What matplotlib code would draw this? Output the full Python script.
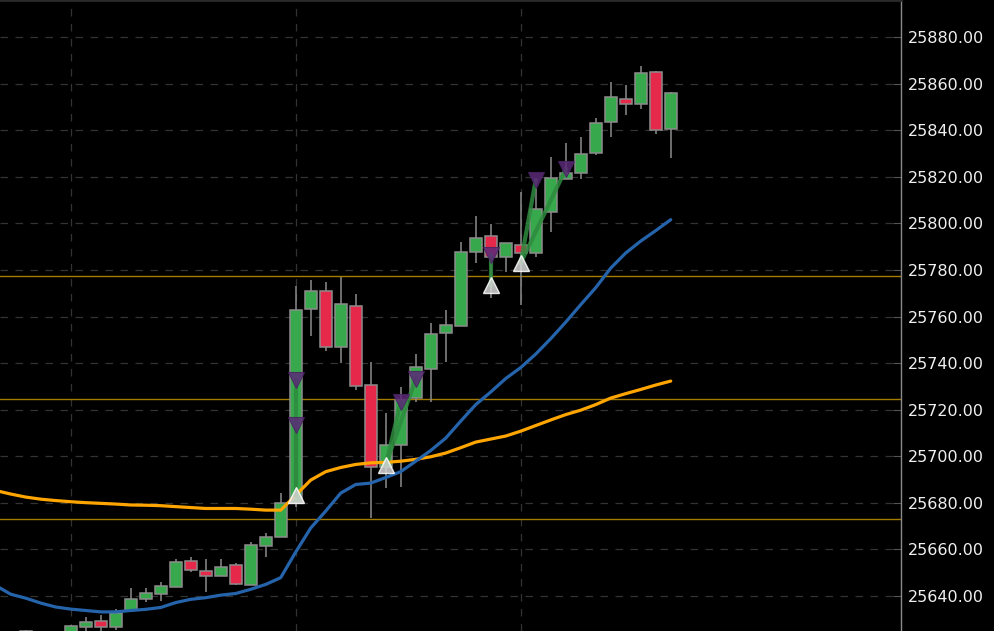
import matplotlib
matplotlib.use("Agg")
import matplotlib.pyplot as plt
from matplotlib.ticker import FixedLocator, FormatStrFormatter

# candles, bar index 0..44
opens  = [25618.0, 25620.0, 25619.0, 25622.0, 25620.0, 25626.8, 25629.4, 25626.6, 25634.0, 25638.7,
          25640.8, 25644.0, 25655.1, 25650.6, 25648.6, 25653.4, 25644.7, 25661.6, 25665.2, 25679.8,
          25763.2, 25771.1, 25747.0, 25764.5, 25730.6, 25695.5, 25704.8, 25725.1, 25737.4, 25753.0,
          25755.9, 25787.8, 25794.6, 25785.7, 25790.7, 25787.1, 25805.0, 25818.9, 25821.7, 25830.3,
          25843.6, 25853.3, 25851.1, 25864.8, 25840.5]
highs  = [25621.0, 25625.6, 25625.2, 25624.0, 25627.5, 25631.0, 25631.8, 25634.3, 25643.3, 25643.3,
          25645.9, 25655.7, 25656.9, 25655.7, 25655.7, 25654.0, 25663.3, 25666.9, 25684.1, 25773.1,
          25775.7, 25774.8, 25776.8, 25769.7, 25740.6, 25718.7, 25729.8, 25743.8, 25757.2, 25762.8,
          25792.1, 25803.1, 25799.7, 25791.6, 25813.6, 25815.2, 25828.3, 25834.6, 25837.2, 25845.1,
          25860.8, 25859.4, 25867.5, 25865.4, 25856.5]
lows   = [25612.0, 25615.0, 25614.0, 25616.0, 25618.0, 25624.5, 25624.0, 25625.4, 25634.0, 25637.5,
          25637.8, 25644.0, 25650.4, 25641.6, 25648.6, 25644.7, 25644.7, 25656.6, 25665.2, 25678.1,
          25751.7, 25745.3, 25739.9, 25728.4, 25673.3, 25686.2, 25686.9, 25723.4, 25723.4, 25740.6,
          25755.9, 25782.8, 25767.9, 25779.2, 25764.9, 25785.7, 25796.4, 25818.9, 25818.9, 25829.3,
          25836.9, 25846.5, 25849.0, 25838.4, 25827.9]
closes = [25616.0, 25624.9, 25623.0, 25618.0, 25627.1, 25628.7, 25626.6, 25632.8, 25638.6, 25641.1,
          25644.3, 25654.6, 25651.1, 25648.7, 25652.6, 25645.1, 25661.8, 25665.4, 25680.0, 25762.8,
          25771.1, 25747.0, 25765.4, 25730.3, 25695.5, 25704.8, 25724.1, 25738.4, 25752.5, 25756.3,
          25787.8, 25793.6, 25785.7, 25791.4, 25787.1, 25806.0, 25819.3, 25821.7, 25829.6, 25843.2,
          25854.1, 25851.2, 25864.4, 25840.1, 25856.1]

# moving averages, bar index -1..44
ema_fast = [25644.5, 25640.8, 25639.1, 25637.0, 25635.3, 25634.4, 25633.8, 25633.2, 25633.2, 25633.8,
            25634.3, 25635.1, 25637.2, 25638.6, 25639.3, 25640.4, 25641.1, 25642.9, 25645.0, 25647.9,
            25658.9, 25669.2, 25676.5, 25684.2, 25687.9, 25688.5, 25690.9, 25693.4, 25697.9, 25702.5,
            25707.8, 25715.1, 25722.2, 25727.6, 25733.4, 25738.1, 25743.9, 25750.5, 25757.6, 25765.1,
            25772.4, 25780.8, 25787.3, 25792.4, 25796.9, 25801.6]
ema_slow = [25685.3, 25683.8, 25682.5, 25681.6, 25681.0, 25680.5, 25680.1, 25679.8, 25679.5, 25679.1,
            25679.0, 25678.8, 25678.4, 25678.0, 25677.6, 25677.6, 25677.6, 25677.3, 25676.9, 25676.9,
            25683.3, 25689.8, 25693.4, 25695.2, 25696.5, 25697.2, 25697.4, 25697.9, 25698.7, 25699.8,
            25701.4, 25703.7, 25706.1, 25707.4, 25708.7, 25710.8, 25713.2, 25715.6, 25717.9, 25719.8,
            25722.2, 25725.0, 25726.9, 25728.7, 25730.6, 25732.3]

levels = [25777.4, 25724.6, 25673.0]

buy_idx = [19, 25, 32, 34]
buy_px  = [25683.3, 25696.2, 25773.5, 25783.0]
sell_idx = [19, 19, 26, 27, 32, 35, 37]
sell_px  = [25732.7, 25713.4, 25723.3, 25733.2, 25786.4, 25818.6, 25823.3]
# (buy n, sell n) links
links = [(0, 0), (0, 1), (1, 2), (1, 3), (2, 4), (3, 5), (3, 6)]

yticks = list(range(25640, 25881, 20))
vgrid = [4, 19, 34]

GREEN = "#38a84c"
RED = "#e6284b"
EDGE = "#8c8c8c"

fig = plt.figure(figsize=(9.94, 6.31), dpi=100, facecolor="black")
ax = fig.add_axes([0, 0, 901 / 994, 1])
ax.set_facecolor("black")

# price levels
for lv in levels:
    ax.axhline(lv, color="#a67c00", lw=1.0, zorder=1)

# candles
for i in range(len(opens)):
    o, h, l, c = opens[i], highs[i], lows[i], closes[i]
    col = GREEN if c >= o else RED
    ax.vlines(i, l, h, color=EDGE, lw=1.1, zorder=2)
    lo, hi = min(o, c), max(o, c)
    ax.bar(i, max(hi - lo, 0.4), bottom=lo, width=0.78, color=col,
           edgecolor=EDGE, linewidth=1.1, zorder=3)

ma_x = list(range(-1, len(opens)))
ax.plot(ma_x, ema_slow, color="#ffa500", lw=2.3, zorder=4, solid_capstyle="round")
ax.plot(ma_x, ema_fast, color="#2564ab", lw=2.3, zorder=4, solid_capstyle="round")

# signal links
for b, s in links:
    ax.plot([buy_idx[b], sell_idx[s]], [buy_px[b], sell_px[s]],
            color="#2e8b3e", lw=3.0, alpha=0.85, zorder=5)

ax.plot(sell_idx, sell_px, linestyle="none", marker="v", ms=12,
        mfc="#5b2a78", mec="#4a2363", mew=0.8, alpha=0.85, zorder=6)
ax.plot(buy_idx, buy_px, linestyle="none", marker="^", ms=11.5,
        mfc="#d6d6d6", mec="white", mew=1.0, alpha=0.85, zorder=7)

ax.set_xlim(-0.713, 59.35)
ax.set_ylim(25625.0, 25895.9)

ax.yaxis.tick_right()
ax.yaxis.set_major_locator(FixedLocator(yticks))
ax.yaxis.set_major_formatter(FormatStrFormatter("%.2f"))
ax.xaxis.set_major_locator(FixedLocator(vgrid))
ax.tick_params(axis="x", length=0, labelbottom=False)
ax.tick_params(axis="y", direction="in", length=6, color="#555555",
               labelcolor="#f0f0f0", labelsize=11.5, pad=5)
ax.grid(True, color="#333333", lw=0.9, linestyle=(0, (6, 6)), zorder=0)
ax.set_axisbelow(True)

for side in ["left", "bottom"]:
    ax.spines[side].set_visible(False)
ax.spines["top"].set_color("#2a2a2a")
ax.spines["top"].set_linewidth(2.0)
ax.spines["right"].set_color("#8a8a8a")
ax.spines["right"].set_linewidth(1.0)

fig.savefig("out.png", dpi=100, facecolor="black")
